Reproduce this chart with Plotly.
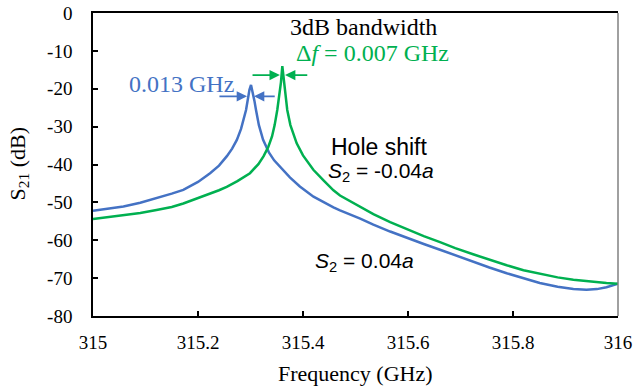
import plotly.graph_objects as go

# S2 = 0.04a (blue)
freq_blue = [315.000, 315.030, 315.058, 315.090, 315.121, 315.150, 315.172, 315.200, 315.223, 315.240,
             315.255, 315.265, 315.274, 315.282, 315.2915, 315.295, 315.298, 315.301, 315.304, 315.3075,
             315.3105, 315.316, 315.324, 315.335, 315.345, 315.356, 315.375, 315.394, 315.420, 315.458,
             315.4705, 315.509, 315.534, 315.566, 315.5975, 315.630, 315.661, 315.690, 315.724, 315.755,
             315.788, 315.820, 315.851, 315.885, 315.915, 315.940, 315.960, 315.978, 316.000]
s21_blue = [-52.2, -51.7, -51.1, -50.1, -48.9, -47.7, -46.7, -44.6, -42.3, -40.3,
            -37.8, -35.8, -33.5, -30.6, -25.6, -22.6, -20.3, -19.0, -20.6, -23.2,
            -25.6, -29.6, -33.5, -36.8, -38.9, -40.6, -43.4, -45.8, -48.5, -51.3,
            -52.1, -54.3, -55.9, -57.7, -59.4, -61.0, -62.5, -64.0, -65.6, -67.2,
            -68.7, -70.1, -71.3, -72.3, -72.9, -73.1, -72.9, -72.4, -71.5]

# S2 = -0.04a (green)
freq_green = [315.000, 315.030, 315.058, 315.090, 315.121, 315.150, 315.172, 315.204, 315.223, 315.240,
              315.2547, 315.275, 315.299, 315.315, 315.325, 315.334, 315.341, 315.346, 315.351, 315.355,
              315.358, 315.3606, 315.363, 315.366, 315.370, 315.376, 315.382, 315.388, 315.400, 315.4197,
              315.440, 315.458, 315.4705, 315.509, 315.534, 315.566, 315.5975, 315.630, 315.661, 315.690,
              315.724, 315.755, 315.788, 315.820, 315.851, 315.885, 315.915, 315.945, 315.978, 316.000]
s21_green = [-54.4, -53.9, -53.4, -52.8, -52.0, -51.2, -50.3, -48.7, -47.7, -46.8,
             -45.9, -44.4, -42.3, -39.9, -37.8, -35.3, -32.6, -29.6, -25.6, -21.8,
             -18.3, -14.0, -17.5, -21.0, -25.6, -29.6, -32.3, -34.4, -37.6, -41.4,
             -44.3, -46.8, -48.2, -51.2, -53.1, -55.2, -57.1, -58.9, -60.5, -62.1,
             -63.7, -65.2, -66.6, -67.9, -68.9, -69.8, -70.4, -70.9, -71.3, -71.5]

x_ticks = [315, 315.2, 315.4, 315.6, 315.8, 316]
x_tick_labels = ["315", "315.2", "315.4", "315.6", "315.8", "316"]
y_ticks = [0, -10, -20, -30, -40, -50, -60, -70, -80]
y_tick_labels = ["0", "-10", "-20", "-30", "-40", "-50", "-60", "-70", "-80"]

BLUE = "#4472C4"
GREEN = "#00B050"
SERIF = "Liberation Serif, Times New Roman, serif"
SANS = "Liberation Sans, Arial, sans-serif"

fig = go.Figure()
fig.add_trace(go.Scatter(x=freq_blue, y=s21_blue, mode="lines",
                         line=dict(color=BLUE, width=2.5), showlegend=False))
fig.add_trace(go.Scatter(x=freq_green, y=s21_green, mode="lines",
                         line=dict(color=GREEN, width=2.5), showlegend=False))

fig.update_layout(
    width=636, height=389,
    margin=dict(l=93, r=18, t=13, b=73),
    plot_bgcolor="white", paper_bgcolor="white",
    xaxis=dict(range=[315, 316], tickvals=x_ticks, ticktext=x_tick_labels,
               ticks="inside", ticklen=5, tickcolor="black", tickwidth=1.5,
               showline=True, linecolor="black", linewidth=1.5, mirror=True,
               showgrid=False, zeroline=False, automargin=False,
               tickfont=dict(family=SERIF, size=19, color="black"),
               ticklabelstandoff=8),
    yaxis=dict(range=[-80, 0], tickvals=y_ticks, ticktext=y_tick_labels,
               ticks="inside", ticklen=5, tickcolor="black", tickwidth=1.5,
               showline=True, linecolor="black", linewidth=1.5,
               showgrid=False, zeroline=False, automargin=False,
               tickfont=dict(family=SERIF, size=19, color="black"),
               ticklabelstandoff=15),
)

fig.add_shape(type="line", xref="paper", yref="paper", x0=1, x1=1, y0=0, y1=1,
              line=dict(color="#808080", width=1.5))

# axis titles
fig.add_annotation(xref="paper", yref="paper", x=0.5, y=0, yshift=-57, showarrow=False,
                   xanchor="center", yanchor="middle", text="Frequency (GHz)",
                   font=dict(family=SERIF, size=22, color="black"))
fig.add_annotation(xref="paper", yref="paper", x=0, y=0.5, xshift=-75, showarrow=False,
                   xanchor="center", yanchor="middle", textangle=-90, text="S<sub>21</sub> (dB)",
                   font=dict(family=SERIF, size=22, color="black"))

texts = [
    dict(x=315.516, y=-3.8, text="3dB bandwidth", font=dict(family=SERIF, size=24, color="black")),
    dict(x=315.532, y=-10.5, text="Δ<i>f</i> = 0.007 GHz", font=dict(family=SERIF, size=24, color=GREEN)),
    dict(x=315.168, y=-18.7, text="0.013 GHz", font=dict(family=SERIF, size=24, color=BLUE)),
    dict(x=315.545, y=-35.5, text="Hole shift", font=dict(family=SANS, size=23, color="black")),
    dict(x=315.549, y=-42.0, text="<i>S</i><sub>2</sub> = -0.04<i>a</i>", font=dict(family=SANS, size=21, color="black")),
    dict(x=315.517, y=-65.8, text="<i>S</i><sub>2</sub> = 0.04<i>a</i>", font=dict(family=SANS, size=21, color="black")),
]
for t in texts:
    fig.add_annotation(xref="x", yref="y", showarrow=False, xanchor="center", yanchor="middle", **t)

arrows = [
    (315.2935, -22.0, 315.238, -22.0, BLUE),
    (315.3065, -22.0, 315.349, -22.0, BLUE),
    (315.356, -16.4, 315.301, -16.4, GREEN),
    (315.3657, -16.4, 315.411, -16.4, GREEN),
]
for x, y, ax, ay, c in arrows:
    fig.add_annotation(x=x, y=y, ax=ax, ay=ay, xref="x", yref="y", axref="x", ayref="y",
                       text="", showarrow=True, arrowhead=2, arrowsize=1.3, arrowwidth=1.6,
                       arrowcolor=c)

fig.write_html("out.html")
